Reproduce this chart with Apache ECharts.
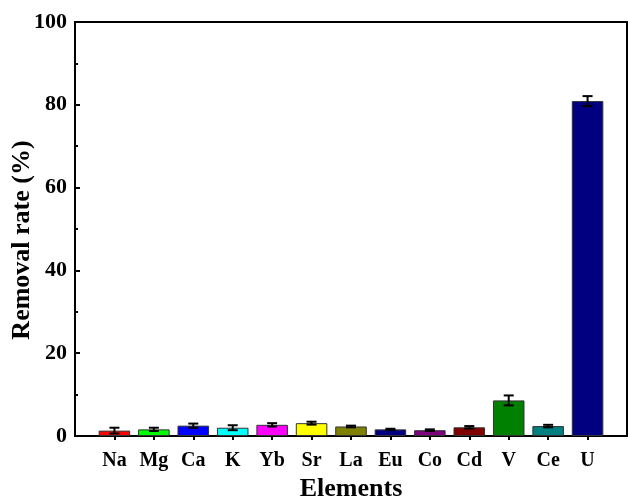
<!DOCTYPE html>
<html>
<head>
<meta charset="utf-8">
<script src="https://cdn.jsdelivr.net/npm/echarts@6/dist/echarts.min.js"></script>
<style>html,body{margin:0;padding:0;background:#fff;}#c{width:628px;height:499px;}</style>
</head>
<body>
<div id="c"></div>
<script>
var categories = ['Na','Mg','Ca','K','Yb','Sr','La','Eu','Co','Cd','V','Ce','U'];
var values = [1.3, 1.6, 2.5, 2.0, 2.7, 3.1, 2.3, 1.6, 1.4, 2.1, 8.6, 2.4, 80.9];
var errors = [0.7, 0.4, 0.5, 0.6, 0.4, 0.35, 0.2, 0.15, 0.2, 0.3, 1.2, 0.3, 1.2];
var colors = ['#ff0000','#00ff00','#0000ff','#00ffff','#ff00ff','#ffff00','#808000','#000080','#800080','#800000','#008000','#008080','#000080'];
var yTicks = [0, 20, 40, 60, 80, 100];

var axisCats = [''].concat(categories).concat(['']);
var font = '"Liberation Serif", "Times New Roman", serif';

var barData = categories.map(function (c, i) {
  return { value: [i + 1, values[i]], itemStyle: { color: colors[i] } };
});
var errData = categories.map(function (c, i) {
  return [i + 1, values[i] - errors[i], values[i] + errors[i]];
});

var chart = echarts.init(document.getElementById('c'), null, { renderer: 'canvas' });
chart.setOption({
  animation: false,
  backgroundColor: '#fff',
  grid: { left: 75, right: 1, top: 22, bottom: 63, containLabel: false, outerBoundsMode: 'none',
          show: true, borderColor: '#000', borderWidth: 2, backgroundColor: 'transparent' },
  xAxis: {
    type: 'category',
    data: axisCats,
    boundaryGap: false,
    name: 'Elements',
    nameLocation: 'middle',
    nameGap: 40,
    nameMoveOverlap: false,
    nameTextStyle: { fontFamily: font, fontWeight: 'bold', fontSize: 26, color: '#000' },
    axisLine: { show: true, lineStyle: { color: '#000', width: 2 } },
    axisTick: { show: true, inside: false, length: 4, lineStyle: { color: '#000', width: 2 },
                interval: function (idx) { return idx > 0 && idx < axisCats.length - 1; } },
    axisLabel: { fontFamily: font, fontWeight: 'bold', fontSize: 20, color: '#000', margin: 15, interval: 0 },
    splitLine: { show: false }
  },
  yAxis: {
    type: 'value',
    min: yTicks[0],
    max: yTicks[yTicks.length - 1],
    interval: yTicks[1] - yTicks[0],
    name: 'Removal rate (%)',
    nameLocation: 'middle',
    nameGap: 40,
    nameMoveOverlap: false,
    nameTextStyle: { fontFamily: font, fontWeight: 'bold', fontSize: 26, color: '#000', padding: [0, 22, 0, 0] },
    axisLine: { show: true, lineStyle: { color: '#000', width: 2 } },
    axisTick: { show: true, inside: true, length: 5, lineStyle: { color: '#000', width: 2 } },
    minorTick: { show: true, splitNumber: 2, length: 3, lineStyle: { color: '#000', width: 2 } },
    axisLabel: { fontFamily: font, fontWeight: 'bold', fontSize: 22, color: '#000', margin: 8 },
    splitLine: { show: false }
  },
  series: [
    {
      type: 'bar',
      data: barData,
      barWidth: '80%',
      itemStyle: { borderColor: '#333', borderWidth: 1 }
    },
    {
      type: 'custom',
      data: errData,
      z: 10,
      renderItem: function (params, api) {
        var x = api.value(0);
        var lo = api.coord([x, api.value(1)]);
        var hi = api.coord([x, api.value(2)]);
        var hw = 5;
        var st = { stroke: '#000', lineWidth: 2 };
        return {
          type: 'group',
          children: [
            { type: 'line', shape: { x1: lo[0], y1: lo[1], x2: hi[0], y2: hi[1] }, style: st },
            { type: 'line', shape: { x1: lo[0] - hw, y1: lo[1], x2: lo[0] + hw, y2: lo[1] }, style: st },
            { type: 'line', shape: { x1: hi[0] - hw, y1: hi[1], x2: hi[0] + hw, y2: hi[1] }, style: st }
          ]
        };
      }
    }
  ]
});
</script>
</body>
</html>
